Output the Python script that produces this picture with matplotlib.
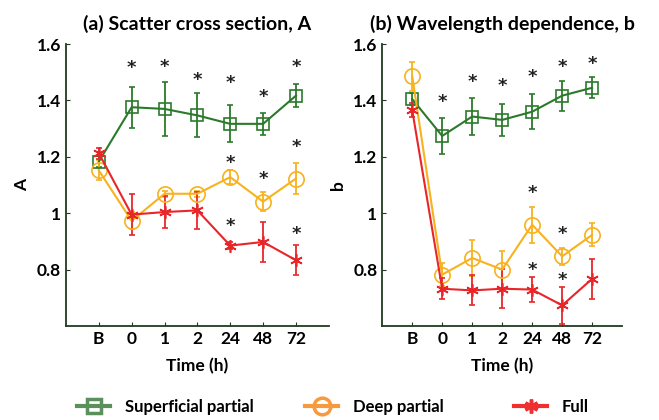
import numpy as np
import matplotlib.pyplot as plt
from matplotlib.lines import Line2D
from matplotlib.ticker import FuncFormatter

plt.rcParams['font.family'] = ['Lato', 'DejaVu Sans']
plt.rcParams['font.weight'] = 'bold'

# -------------------------
# Data
# -------------------------
times = ["B", "0", "1", "2", "24", "48", "72"]
series_names = ["Superficial partial", "Deep partial", "Full"]

# (a) scatter cross section A
A_sup = [1.183, 1.376, 1.370, 1.347, 1.317, 1.317, 1.417]
A_sup_err = [0.02, 0.072, 0.097, 0.078, 0.066, 0.038, 0.04]
A_deep = [1.152, 0.973, 1.069, 1.069, 1.128, 1.041, 1.123]
A_deep_err = [0.035, 0.03, 0.01, 0.01, 0.026, 0.034, 0.056]
A_full = [1.213, 0.995, 1.004, 1.010, 0.885, 0.898, 0.833]
A_full_err = [0.02, 0.073, 0.058, 0.066, 0.012, 0.07, 0.054]

# (b) wavelength dependence b
b_sup = [1.405, 1.274, 1.343, 1.331, 1.360, 1.417, 1.445]
b_sup_err = [0.02, 0.064, 0.065, 0.056, 0.062, 0.053, 0.037]
b_deep = [1.486, 0.782, 0.841, 0.800, 0.959, 0.847, 0.923]
b_deep_err = [0.052, 0.04, 0.065, 0.065, 0.063, 0.031, 0.041]
b_full = [1.366, 0.732, 0.726, 0.732, 0.729, 0.673, 0.767]
b_full_err = [0.025, 0.038, 0.053, 0.07, 0.044, 0.065, 0.07]

# significance stars: (time index, y value)
A_stars = [(1, 1.515), (2, 1.517), (3, 1.473), (4, 1.462), (5, 1.414), (6, 1.517),
           (4, 1.178), (5, 1.122), (6, 1.234), (4, 0.954), (6, 0.925)]
b_stars = [(1, 1.394), (2, 1.464), (3, 1.452), (4, 1.482), (5, 1.517), (6, 1.530),
           (4, 1.072), (5, 0.925), (4, 0.797), (5, 0.762)]

colors = ["#2b7a2b", "#f7b21e", "#e8262a"]
legend_colors = ["#5b8f5b", "#f79a3e", "#ee3030"]
markers = ["s", "o", (6, 2, 0)]
msizes = [9, 11, 9]
legend_x = [0.117, 0.463, 0.780]

# -------------------------
# Plot
# -------------------------
fig = plt.figure(figsize=(6.59, 4.2), dpi=100)
ax1 = fig.add_axes([0.100, 0.224, 0.399, 0.671])
ax2 = fig.add_axes([0.580, 0.224, 0.364, 0.671])

x = np.arange(len(times))
panels = [
    (ax1, [A_sup, A_deep, A_full], [A_sup_err, A_deep_err, A_full_err], A_stars,
     "(a) Scatter cross section, A", "A"),
    (ax2, [b_sup, b_deep, b_full], [b_sup_err, b_deep_err, b_full_err], b_stars,
     "(b) Wavelength dependence, b", "b"),
]

for ax, vals, errs, stars, title, ylab in panels:
    for v, e, c, m, ms in zip(vals, errs, colors, markers, msizes):
        ax.errorbar(x, v, yerr=e, color=c, marker=m, markersize=ms,
                    markerfacecolor='none', markeredgecolor=c, markeredgewidth=1.2,
                    linewidth=1.5, elinewidth=1.3, capsize=2.5, capthick=1.2)
    for i, yv in stars:
        ax.text(x[i], yv, "*", ha='center', va='center', fontsize=13,
                fontweight='bold', color='#222222', family='DejaVu Sans')
    ax.set_xlim(-1, 7)
    ax.set_ylim(0.6, 1.6)
    ax.set_xticks(x)
    ax.set_xticklabels(times)
    ax.set_yticks([0.8, 1.0, 1.2, 1.4, 1.6])
    ax.yaxis.set_major_formatter(FuncFormatter(lambda v, p: f"{v:g}"))
    ax.tick_params(direction='in', length=3, labelsize=12.5, color='#203a20')
    for s in ["top", "right"]:
        ax.spines[s].set_visible(False)
    for s in ["left", "bottom"]:
        ax.spines[s].set_color('#203a20')
        ax.spines[s].set_linewidth(1.3)
    ax.set_title(title, fontsize=14, fontweight='bold', pad=10)
    ax.set_xlabel("Time (h)", fontsize=12.5, fontweight='bold', labelpad=8)
    ax.set_ylabel(ylab, fontsize=12.5, fontweight='bold', labelpad=5)

# one small legend per series, placed as in the original
for name, c, m, ms, lx in zip(series_names, legend_colors, markers, msizes, legend_x):
    h = Line2D([0], [0], color=c, marker=m, markersize=ms + 1, markerfacecolor='none',
               markeredgewidth=2.5, linewidth=3)
    fig.legend([h], [name], loc='center left', bbox_to_anchor=(lx, 0.031),
               frameon=False, fontsize=12, handlelength=2.0, handletextpad=0.85,
               borderpad=0, borderaxespad=0)

fig.savefig("out.png", dpi=100)
plt.close()
